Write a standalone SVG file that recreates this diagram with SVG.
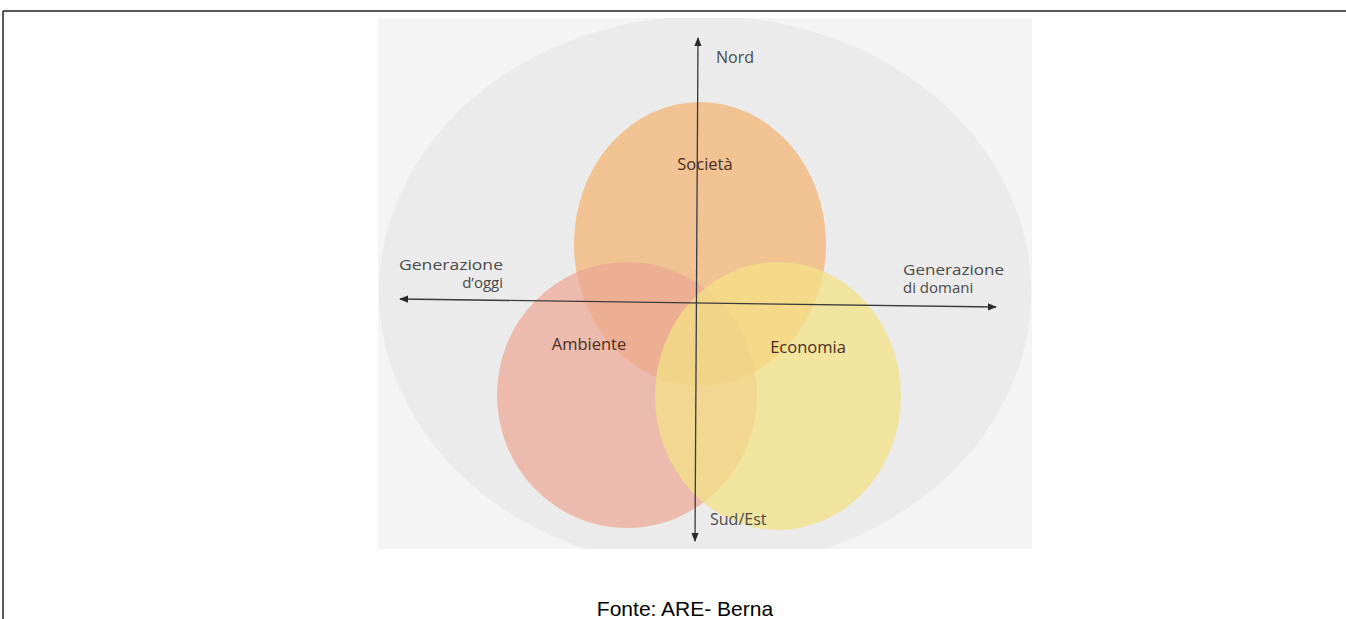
<svg xmlns="http://www.w3.org/2000/svg" width="1346" height="619" viewBox="0 0 1346 619">
<style>
.lbl{font-family:"Open Sans","Noto Sans",sans-serif;font-size:16px;fill:#4a4a4a}
.gen{font-family:"Open Sans","Noto Sans",sans-serif;font-size:15px;fill:#4a4a4a}
.dom{font-family:"Open Sans","Noto Sans",sans-serif;font-size:16.5px;fill:#4a2e22}
.ax{stroke:#3a3a3a;stroke-width:1.3;fill:none}
</style>
<defs>
<marker id="ah" viewBox="0 0 10 10" refX="9" refY="5" markerWidth="7" markerHeight="7" orient="auto-start-reverse"><path d="M0,1 L10,5 L0,9 z" fill="#2a2a2a"/></marker>
<clipPath id="img"><rect x="378" y="18" width="654" height="531"/></clipPath>
</defs>
<rect width="1346" height="619" fill="#fff"/>
<path d="M3,11 H1346 M3,11 V619" stroke="#222" stroke-width="1.5" fill="none"/>
<g id="background" clip-path="url(#img)">
<rect x="378" y="18" width="654" height="531" fill="#f4f4f4"/>
<ellipse cx="705" cy="292" rx="326" ry="276" fill="#ebebeb"/>
</g>
<g id="societa"><ellipse cx="700" cy="244" rx="126" ry="142" fill="#f1c292"/></g>
<g id="ambiente"><ellipse cx="627" cy="395" rx="130" ry="133" fill="#eca894" fill-opacity="0.72"/></g>
<g id="economia"><ellipse cx="778" cy="396" rx="123" ry="134" fill="#f3e184" fill-opacity="0.74"/></g>
<g id="connectors">
<line class="ax" x1="698" y1="38" x2="695" y2="541" marker-start="url(#ah)" marker-end="url(#ah)"/>
<line class="ax" x1="400" y1="299" x2="996" y2="307" marker-start="url(#ah)" marker-end="url(#ah)"/>
</g>
<g id="labels">
<text class="lbl" x="716" y="63">Nord</text>
<text class="dom" x="705" y="170" text-anchor="middle">Società</text>
<text class="gen" text-anchor="end"><tspan x="503" y="270" textLength="104" lengthAdjust="spacingAndGlyphs">Generazione</tspan><tspan x="503" y="288">d’oggi</tspan></text>
<text class="gen"><tspan x="903" y="275" textLength="101" lengthAdjust="spacingAndGlyphs">Generazione</tspan><tspan x="903" y="293">di domani</tspan></text>
<text class="dom" x="589" y="350" text-anchor="middle">Ambiente</text>
<text class="dom" x="808" y="353" text-anchor="middle">Economia</text>
<text class="lbl" x="710" y="525">Sud/Est</text>
</g>
<text x="685" y="616" text-anchor="middle" font-family="Liberation Sans, Arial, sans-serif" font-size="21" fill="#000">Fonte: ARE- Berna</text>
</svg>
